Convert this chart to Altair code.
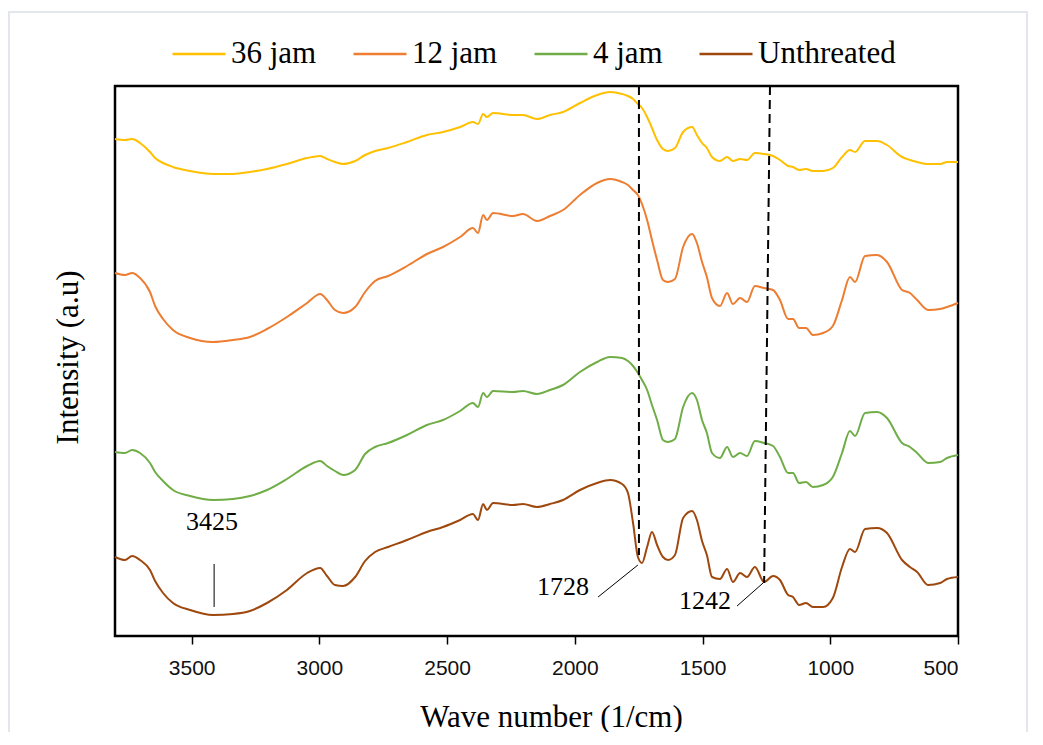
import altair as alt
import pandas as pd

# ---------------- data ----------------
WAVENUMBER = [3800, 3761, 3733, 3702, 3663, 3643, 3612, 3573, 3506, 3416,
              3338, 3272, 3205, 3127, 3048, 2997, 2970, 2939, 2907, 2860,
              2821, 2782, 2731, 2657, 2579, 2516, 2449, 2399, 2379, 2359,
              2344, 2320, 2242, 2203, 2148, 2097, 2046, 1980, 1913, 1862,
              1815, 1792, 1772, 1753, 1737, 1717, 1698, 1678, 1655, 1635,
              1608, 1576, 1541, 1522, 1502, 1483, 1463, 1432, 1404, 1381,
              1353, 1326, 1295, 1259, 1224, 1197, 1165, 1146, 1122, 1095,
              1068, 1028, 990, 954, 923, 903, 864, 817, 778, 719,
              688, 660, 617, 570, 543, 500]

INT_36 = [497, 496, 497, 493, 484, 478, 473, 469, 465, 462,
          462, 464, 467, 472, 478, 480, 477, 474, 472, 475,
          481, 485, 488, 494, 501, 504, 509, 514, 512, 522,
          519, 523, 521, 521, 517, 521, 524, 533, 541, 544,
          542, 540, 537, 532, 528, 519, 508, 496, 487, 485,
          488, 504, 509, 501, 493, 488, 479, 475, 479, 475,
          477, 476, 483, 482, 480, 476, 470, 469, 466, 467,
          465, 465, 468, 479, 486, 484, 495, 495, 491, 479,
          476, 474, 472, 472, 474, 474]

INT_12 = [363, 361, 363, 358, 344, 330, 317, 306, 298, 294,
          296, 299, 307, 319, 333, 342, 336, 326, 323, 329,
          344, 355, 360, 370, 382, 389, 399, 408, 403, 421,
          416, 423, 420, 422, 415, 420, 426, 441, 453, 457,
          454, 451, 446, 441, 432, 416, 396, 376, 356, 354,
          357, 389, 402, 393, 374, 359, 338, 330, 343, 332,
          338, 334, 350, 348, 346, 336, 317, 317, 308, 308,
          301, 303, 310, 336, 359, 354, 380, 381, 374, 346,
          343, 336, 326, 327, 329, 333]

INT_4 = [184, 183, 186, 183, 173, 164, 155, 146, 140, 136,
         137, 140, 146, 157, 170, 175, 170, 165, 161, 166,
         182, 189, 193, 201, 211, 216, 225, 233, 229, 243,
         239, 245, 244, 245, 242, 246, 251, 264, 274, 279,
         278, 275, 270, 263, 256, 246, 231, 216, 196, 194,
         197, 229, 243, 236, 216, 203, 183, 178, 189, 179,
         183, 180, 195, 193, 190, 179, 163, 163, 153, 154,
         149, 151, 159, 183, 205, 200, 223, 224, 218, 193,
         189, 183, 173, 174, 178, 181]

INT_UN = [79, 76, 80, 76, 66, 55, 43, 33, 26, 21,
          22, 25, 33, 46, 63, 68, 60, 51, 50, 59,
          75, 84, 89, 96, 104, 109, 116, 122, 116, 132,
          126, 133, 131, 132, 129, 132, 136, 146, 153, 156,
          152, 143, 113, 79, 73, 89, 104, 91, 79, 76,
          81, 118, 125, 116, 95, 81, 59, 57, 67, 54,
          63, 59, 69, 54, 60, 56, 41, 39, 31, 33,
          29, 29, 38, 69, 87, 84, 107, 108, 103, 76,
          69, 64, 51, 53, 57, 59]

SERIES = ["36 jam", "12 jam", "4 jam", "Unthreated"]
COLORS = ["#FFC000", "#ED7D31", "#70AD47", "#9E480E"]
X_TICKS = [3500, 3000, 2500, 2000, 1500, 1000, 500]

# dashed reference lines (x, y) -> (x2, y2)
DASH_X = [1749, 1236]
DASH_Y = [550, 550]
DASH_X2 = [1749, 1259]
DASH_Y2 = [81, 53]

# annotation leader lines
LEAD_X = [3412, 1909, 1365]
LEAD_Y = [72, 39, 30]
LEAD_X2 = [3412, 1753, 1263]
LEAD_Y2 = [29, 71, 53]

# annotation labels
ANNOT = ["3425", "1728", "1242"]
ANNOT_X = [3420, 2046, 1490]
ANNOT_Y = [114, 49, 35]

# ---------------- tables ----------------
rows = []
for name, vals in zip(SERIES, [INT_36, INT_12, INT_4, INT_UN]):
    for w, v in zip(WAVENUMBER, vals):
        rows.append({"series": name, "wavenumber": w, "intensity": v})
df = pd.DataFrame(rows)
dash_df = pd.DataFrame({"x": DASH_X, "y": DASH_Y, "x2": DASH_X2, "y2": DASH_Y2})
lead_df = pd.DataFrame({"x": LEAD_X, "y": LEAD_Y, "x2": LEAD_X2, "y2": LEAD_Y2})
annot_df = pd.DataFrame({"label": ANNOT, "x": ANNOT_X, "y": ANNOT_Y})

SERIF = "Liberation Serif"
SANS = "Liberation Sans"

x_scale = alt.Scale(domain=[500, 3800], reverse=True, nice=False, zero=False)
y_scale = alt.Scale(domain=[0, 550], nice=False, zero=False)

lines = alt.Chart(df).mark_line(strokeWidth=2, interpolate="monotone").encode(
    x=alt.X("wavenumber:Q", scale=x_scale,
            axis=alt.Axis(values=X_TICKS, format="d", title="Wave number (1/cm)",
                          grid=False, domain=False, ticks=True, tickSize=8,
                          tickColor="black", tickWidth=1.5,
                          labelFont=SANS, labelFontSize=21, labelColor="#111",
                          labelPadding=13,
                          titleFont=SERIF, titleFontSize=31, titleFontWeight="normal",
                          titleColor="black", titleX=436, titleY=81,
                          titleAlign="center", titleBaseline="middle")),
    y=alt.Y("intensity:Q", scale=y_scale,
            axis=alt.Axis(labels=False, ticks=False, domain=False, grid=False,
                          title="Intensity (a.u)", titleFont=SERIF,
                          titleFontSize=31, titleFontWeight="normal",
                          titleColor="black", titleAngle=270, titleX=-47,
                          titleY=271, titleAlign="center",
                          titleBaseline="middle")),
    color=alt.Color("series:N", sort=SERIES,
                    scale=alt.Scale(domain=SERIES, range=COLORS),
                    legend=alt.Legend(title=None, orient="none", direction="horizontal",
                                      legendX=56, legendY=-60, symbolType="stroke",
                                      symbolSize=2809, symbolStrokeWidth=2.5,
                                      labelFont=SERIF, labelFontSize=31,
                                      labelColor="black", labelOffset=4,
                                      columnPadding=31, padding=0,
                                      labelLimit=300)),
)

x_plain = alt.X("x:Q", scale=x_scale)
y_plain = alt.Y("y:Q", scale=y_scale)

dashes = alt.Chart(dash_df).mark_rule(color="black", strokeWidth=2,
                                      strokeDash=[9, 5]).encode(
    x=x_plain, y=y_plain, x2="x2:Q", y2="y2:Q")

leads = alt.Chart(lead_df).mark_rule(color="black", strokeWidth=1).encode(
    x=x_plain, y=y_plain, x2="x2:Q", y2="y2:Q")

labels = alt.Chart(annot_df).mark_text(font=SERIF, fontSize=26, color="black",
                                       align="center", baseline="middle").encode(
    x=x_plain, y=y_plain, text="label:N")

frame = alt.Chart(pd.DataFrame({"a": [0]})).mark_rect(
    fill=None, stroke="#e3e6ea", strokeWidth=2).encode(
    x=alt.value(-106), x2=alt.value(912), y=alt.value(-74), y2=alt.value(652))

chart = alt.layer(frame, lines, dashes, leads, labels).properties(
    width=843, height=550,
    autosize=alt.AutoSizeParams(type="none"),
    padding={"left": 107, "top": 78, "right": 70, "bottom": 96},
    background="white",
).configure_view(stroke="black", strokeWidth=2.5)

chart.save("out.html", embed_options={"renderer": "svg", "actions": False})
